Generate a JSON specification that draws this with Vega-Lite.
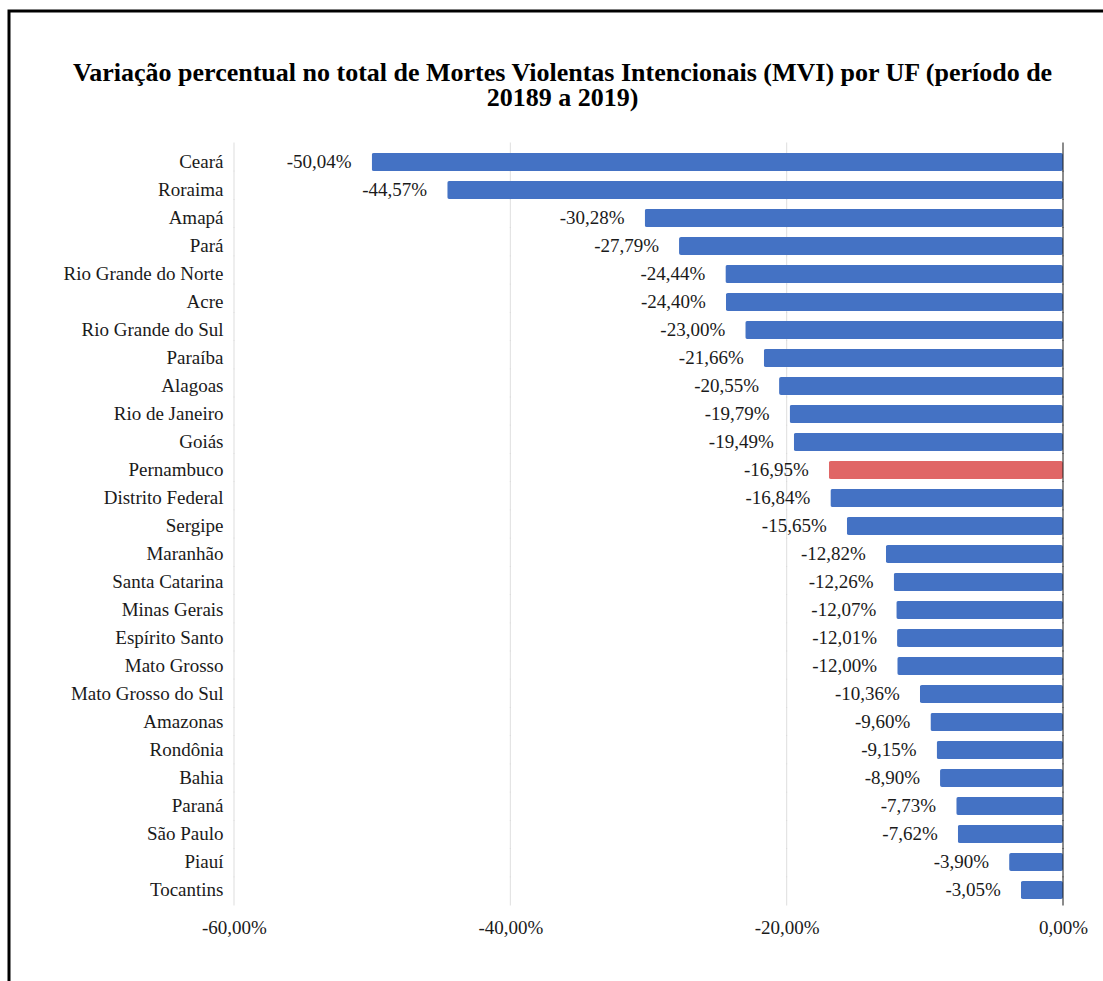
{
  "$schema": "https://vega.github.io/schema/vega-lite/v6.json",
  "width": 1097,
  "height": 973,
  "autosize": "none",
  "padding": {"left": 9, "top": 11, "right": -3, "bottom": -3},
  "background": "white",
  "title": {
    "text": ["Variação percentual no total de Mortes Violentas Intencionais (MVI) por UF (período de", "20189 a 2019)"],
    "font": "Liberation Serif, Times New Roman, serif",
    "fontSize": 26,
    "fontWeight": "bold",
    "color": "#000000",
    "anchor": "middle",
    "frame": "group",
    "dx": 5,
    "lineHeight": 25,
    "offset": -100
  },
  "config": {
    "locale": {"number": {"decimal": ",", "thousands": ".", "grouping": [3], "currency": ["R$", ""], "minus": "-"}},
    "view": {"stroke": "#000000", "strokeWidth": 3},
    "font": "Liberation Serif"
  },
  "data": {
    "values": [
      {"uf": "Ceará", "variacao": -0.5004, "destaque": "não"},
      {"uf": "Roraima", "variacao": -0.4457, "destaque": "não"},
      {"uf": "Amapá", "variacao": -0.3028, "destaque": "não"},
      {"uf": "Pará", "variacao": -0.2779, "destaque": "não"},
      {"uf": "Rio Grande do Norte", "variacao": -0.2444, "destaque": "não"},
      {"uf": "Acre", "variacao": -0.2440, "destaque": "não"},
      {"uf": "Rio Grande do Sul", "variacao": -0.2300, "destaque": "não"},
      {"uf": "Paraíba", "variacao": -0.2166, "destaque": "não"},
      {"uf": "Alagoas", "variacao": -0.2055, "destaque": "não"},
      {"uf": "Rio de Janeiro", "variacao": -0.1979, "destaque": "não"},
      {"uf": "Goiás", "variacao": -0.1949, "destaque": "não"},
      {"uf": "Pernambuco", "variacao": -0.1695, "destaque": "sim"},
      {"uf": "Distrito Federal", "variacao": -0.1684, "destaque": "não"},
      {"uf": "Sergipe", "variacao": -0.1565, "destaque": "não"},
      {"uf": "Maranhão", "variacao": -0.1282, "destaque": "não"},
      {"uf": "Santa Catarina", "variacao": -0.1226, "destaque": "não"},
      {"uf": "Minas Gerais", "variacao": -0.1207, "destaque": "não"},
      {"uf": "Espírito Santo", "variacao": -0.1201, "destaque": "não"},
      {"uf": "Mato Grosso", "variacao": -0.1200, "destaque": "não"},
      {"uf": "Mato Grosso do Sul", "variacao": -0.1036, "destaque": "não"},
      {"uf": "Amazonas", "variacao": -0.0960, "destaque": "não"},
      {"uf": "Rondônia", "variacao": -0.0915, "destaque": "não"},
      {"uf": "Bahia", "variacao": -0.0890, "destaque": "não"},
      {"uf": "Paraná", "variacao": -0.0773, "destaque": "não"},
      {"uf": "São Paulo", "variacao": -0.0762, "destaque": "não"},
      {"uf": "Piauí", "variacao": -0.0390, "destaque": "não"},
      {"uf": "Tocantins", "variacao": -0.0305, "destaque": "não"}
    ]
  },
  "layer": [
    {
      "encoding": {
        "y": {
          "field": "uf",
          "type": "nominal",
          "sort": null,
          "title": null,
          "axis": null,
          "scale": {"range": [132, 894], "paddingInner": 0, "paddingOuter": 0}
        }
      },
      "layer": [
        {"mark": {"type": "tick", "thickness": 1, "size": 29, "color": "#d0d0d0", "orient": "vertical"}, "encoding": {"x": {"datum": -0.6}}},
        {"mark": {"type": "tick", "thickness": 1, "size": 29, "color": "#d0d0d0", "orient": "vertical"}, "encoding": {"x": {"datum": -0.4}}},
        {"mark": {"type": "tick", "thickness": 1, "size": 29, "color": "#d0d0d0", "orient": "vertical"}, "encoding": {"x": {"datum": -0.2}}}
      ]
    },
    {
      "encoding": {
        "y": {
          "field": "uf",
          "type": "nominal",
          "sort": null,
          "title": null,
          "scale": {"range": [137, 893], "paddingInner": 0.36, "paddingOuter": 0.18},
          "axis": {
            "offset": -225,
            "domain": false,
            "ticks": false,
            "grid": false,
            "labelFont": "Liberation Serif",
            "labelFontSize": 19,
            "labelColor": "#1a1a1a",
            "labelPadding": 11,
            "labelLimit": 300
          }
        },
        "x": {
          "field": "variacao",
          "type": "quantitative",
          "title": null,
          "scale": {"domain": [-0.6, 0], "range": [225, 1054], "nice": false, "zero": false},
          "axis": {
            "offset": -80,
            "values": [-0.6, -0.4, -0.2, 0],
            "format": ".2%",
            "domain": false,
            "ticks": false,
            "grid": false,
            "labelFont": "Liberation Serif",
            "labelFontSize": 19,
            "labelColor": "#1a1a1a",
            "labelPadding": 14,
            "labelFlush": false
          }
        }
      },
      "layer": [
        {
          "mark": {"type": "bar", "cornerRadius": 2},
          "encoding": {
            "color": {
              "field": "destaque",
              "type": "nominal",
              "scale": {"domain": ["não", "sim"], "range": ["#4472C4", "#E06666"]},
              "legend": null
            }
          }
        },
        {
          "mark": {"type": "text", "align": "right", "baseline": "middle", "dx": -20, "font": "Liberation Serif", "fontSize": 19, "color": "#1a1a1a"},
          "encoding": {
            "text": {"field": "variacao", "type": "quantitative", "format": ".2%"}
          }
        }
      ]
    },
    {
      "mark": {"type": "tick", "thickness": 1.5, "size": 29, "color": "#222222", "orient": "vertical"},
      "encoding": {
        "x": {"datum": 0},
        "y": {
          "field": "uf",
          "type": "nominal",
          "sort": null,
          "title": null,
          "axis": null,
          "scale": {"range": [132, 894], "paddingInner": 0, "paddingOuter": 0}
        }
      }
    }
  ],
  "resolve": {"scale": {"y": "independent"}, "axis": {"y": "independent"}}
}
